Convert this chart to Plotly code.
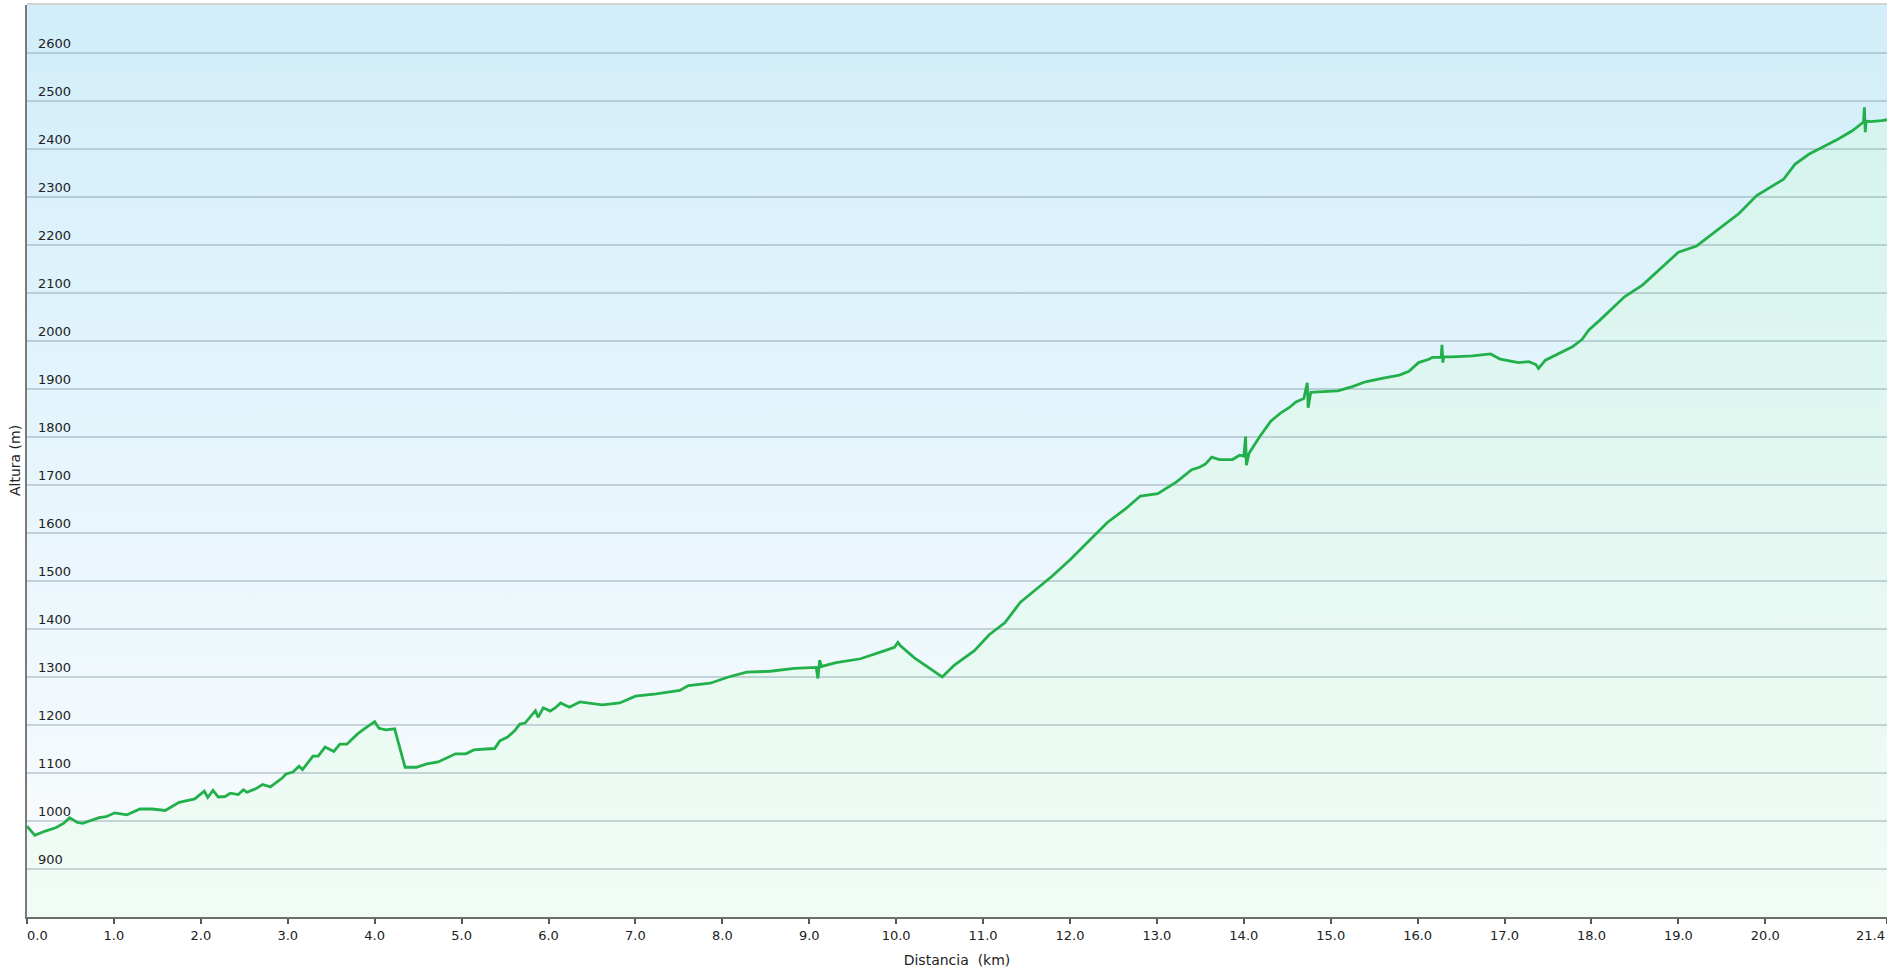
import plotly.graph_objects as go

# elevation profile (distance in km, altitude in m)
DIST_KM = [
    0.00, 0.09, 0.21, 0.33, 0.42, 0.49, 0.58, 0.64, 0.83, 0.91,
    1.01, 1.15, 1.30, 1.44, 1.59, 1.75, 1.93, 2.04, 2.08, 2.14,
    2.20, 2.28, 2.34, 2.43, 2.49, 2.53, 2.63, 2.71, 2.80, 2.88,
    2.94, 2.98, 3.06, 3.13, 3.17, 3.23, 3.29, 3.35, 3.43, 3.53,
    3.60, 3.68, 3.80, 3.88, 4.00, 4.05, 4.13, 4.23, 4.35, 4.48,
    4.60, 4.73, 4.83, 4.93, 5.05, 5.14, 5.28, 5.38, 5.44, 5.53,
    5.61, 5.67, 5.73, 5.79, 5.85, 5.88, 5.94, 6.02, 6.08, 6.14,
    6.24, 6.36, 6.62, 6.82, 7.00, 7.24, 7.51, 7.61, 7.86, 8.07,
    8.28, 8.55, 8.83, 9.08, 9.10, 9.12, 9.14, 9.31, 9.59, 9.87,
    9.98, 10.02, 10.05, 10.21, 10.38, 10.53, 10.67, 10.90, 11.07, 11.25,
    11.43, 11.60, 11.80, 12.01, 12.22, 12.43, 12.63, 12.81, 13.01, 13.23,
    13.40, 13.49, 13.56, 13.63, 13.72, 13.87, 13.95, 14.00, 14.02, 14.03,
    14.06, 14.18, 14.31, 14.43, 14.52, 14.60, 14.69, 14.73, 14.74, 14.77,
    14.86, 15.08, 15.25, 15.40, 15.59, 15.79, 15.90, 16.01, 16.13, 16.17,
    16.27, 16.28, 16.29, 16.30, 16.40, 16.63, 16.84, 16.95, 17.16, 17.28,
    17.36, 17.39, 17.47, 17.62, 17.78, 17.89, 17.97, 18.10, 18.38, 18.59,
    18.80, 19.00, 19.21, 19.42, 19.70, 19.90, 20.11, 20.21, 20.34, 20.50,
    20.69, 20.84, 21.00, 21.13, 21.14, 21.15, 21.16, 21.21, 21.34, 21.40,
]
ELEV_M = [
    989, 970, 979, 986, 995, 1007, 997, 995, 1007, 1009,
    1017, 1013, 1025, 1025, 1022, 1039, 1046, 1062, 1049, 1064,
    1050, 1051, 1058, 1055, 1065, 1060, 1067, 1076, 1071, 1081,
    1090, 1098, 1102, 1114, 1107, 1121, 1135, 1135, 1154, 1145,
    1160, 1160, 1181, 1192, 1207, 1193, 1190, 1192, 1112, 1112,
    1119, 1123, 1131, 1140, 1140, 1148, 1150, 1151, 1167, 1175,
    1188, 1202, 1204, 1216, 1230, 1216, 1236, 1229, 1236, 1246,
    1237, 1248, 1242, 1246, 1260, 1265, 1272, 1282, 1287, 1300,
    1310, 1312, 1318, 1320, 1297, 1335, 1322, 1330, 1338, 1355,
    1362, 1372, 1365, 1340, 1318, 1300, 1325, 1355, 1388, 1413,
    1456, 1481, 1511, 1546, 1584, 1622, 1649, 1677, 1682, 1707,
    1732, 1737, 1744, 1758, 1753, 1753, 1762, 1760, 1801, 1741,
    1766, 1800, 1833, 1851, 1861, 1873, 1880, 1913, 1861, 1893,
    1894, 1896, 1905, 1915, 1922, 1929, 1937, 1955, 1962, 1966,
    1966, 1992, 1955, 1967, 1967, 1969, 1973, 1962, 1955, 1957,
    1951, 1943, 1960, 1973, 1988, 2003, 2023, 2044, 2092, 2117,
    2152, 2185, 2198, 2228, 2266, 2303, 2325, 2337, 2368, 2389,
    2407, 2421, 2438, 2456, 2487, 2435, 2458, 2457, 2459, 2461,
]

X_TICKS = [0, 1, 2, 3, 4, 5, 6, 7, 8, 9, 10, 11, 12, 13, 14, 15, 16, 17, 18, 19, 20, 21.4]
X_TICK_TEXT = [f"{v:.1f}" for v in X_TICKS]
X_END_LABEL = X_TICK_TEXT[-1]
# first label is pushed inside the plot edge, last one is drawn flush right below
X_TICK_TEXT[0] = "\u00a0" * 5 + X_TICK_TEXT[0]
X_TICK_TEXT[-1] = ""
Y_TICKS = [900, 1000, 1100, 1200, 1300, 1400, 1500, 1600, 1700, 1800,
           1900, 2000, 2100, 2200, 2300, 2400, 2500, 2600]

X_RANGE = [0, 21.4]
Y_RANGE = [800, 2700]

FONT = "DejaVu Sans, Verdana, sans-serif"
TEXT = "#222222"

fig = go.Figure()

# sky gradient behind everything
fig.add_trace(go.Scatter(
    x=X_RANGE, y=[Y_RANGE[1], Y_RANGE[1]],
    mode="none", fill="tozeroy",
    fillgradient=dict(type="vertical", start=Y_RANGE[0], stop=Y_RANGE[1],
                      colorscale=[[0, "#fbfcfe"], [1, "#d1eefa"]]),
    hoverinfo="skip", showlegend=False, xaxis="x", yaxis="y",
))

# green area under the profile
fig.add_trace(go.Scatter(
    x=DIST_KM, y=ELEV_M,
    mode="none", fill="tozeroy",
    fillgradient=dict(type="vertical", start=Y_RANGE[0], stop=Y_RANGE[1],
                      colorscale=[[0, "#f1fcf5"], [1, "#d1f3ec"]]),
    hoverinfo="skip", showlegend=False, xaxis="x", yaxis="y",
))

# profile line on a second subplot so the grid sits between fill and line
fig.add_trace(go.Scatter(
    x=DIST_KM, y=ELEV_M,
    mode="lines", line=dict(color="#22b04b", width=2.8),
    hovertemplate="%{x:.2f} km<br>%{y} m<extra></extra>",
    showlegend=False, xaxis="x2", yaxis="y2",
))

fig.update_layout(
    width=1887,
    height=977,
    margin=dict(l=27, r=0, t=5, b=60, autoexpand=False),
    paper_bgcolor="white",
    plot_bgcolor="rgba(0,0,0,0)",
    font=dict(family=FONT, color=TEXT, size=13),
    xaxis=dict(
        range=X_RANGE, domain=[0, 1], anchor="y", side="top", automargin=False,
        showline=True, linecolor="#d2d2d2", linewidth=2,
        showgrid=False, zeroline=False, showticklabels=False, ticks="",
    ),
    # tick labels live on the lower subplot's y axis
    yaxis=dict(
        range=Y_RANGE, domain=[0, 1], anchor="x", automargin=False,
        showline=False, showgrid=False, zeroline=False, ticks="",
        tickvals=Y_TICKS, ticklabelposition="inside top", ticklabelstandoff=8,
        tickfont=dict(size=13, color=TEXT),
    ),
    xaxis2=dict(
        range=X_RANGE, domain=[0, 1], anchor="y2", automargin=False,
        showline=True, linecolor="#6e6e6e", linewidth=2,
        ticks="outside", ticklen=5, tickwidth=1.5, tickcolor="#555555",
        tickvals=X_TICKS, ticktext=X_TICK_TEXT,
        tickfont=dict(size=13, color=TEXT),
        showgrid=False, zeroline=False,
        title=dict(text="Distancia\u00a0 (km)", font=dict(size=14, color=TEXT), standoff=14),
    ),
    yaxis2=dict(
        range=Y_RANGE, domain=[0, 1], anchor="x2", automargin=False,
        showline=True, linecolor="#7a7a7a", linewidth=2,
        showgrid=True, gridcolor="rgba(110,135,150,0.33)", gridwidth=1.5,
        zeroline=False, ticks="", tickvals=Y_TICKS, showticklabels=False,
    ),
    annotations=[
        dict(
            text="Altura (m)", textangle=-90,
            xref="paper", x=0, xanchor="right", xshift=-2,
            yref="paper", y=0.5, yanchor="middle",
            showarrow=False, font=dict(size=14, color=TEXT),
        ),
        dict(
            text=X_END_LABEL,
            xref="x2", x=X_RANGE[1], xanchor="right",
            yref="paper", y=0, yanchor="middle", yshift=-18,
            showarrow=False, font=dict(size=13, color=TEXT),
        ),
    ],
)

fig.write_html("out.html", config={"displayModeBar": False},
               post_script="document.body.style.margin='0';")
